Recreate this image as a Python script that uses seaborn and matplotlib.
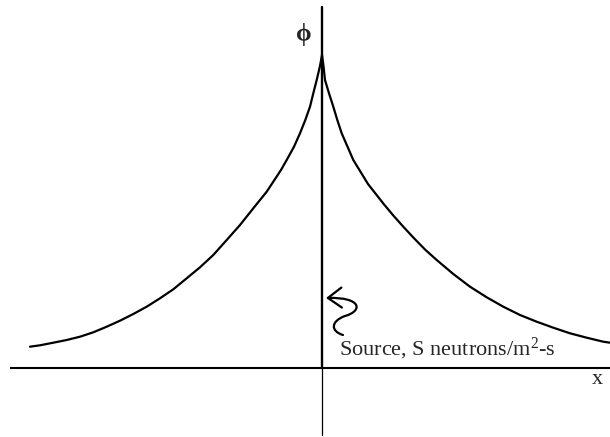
import numpy as np
import pandas as pd
import seaborn as sns
import matplotlib.pyplot as plt
from matplotlib.path import Path
from matplotlib.patches import FancyArrowPatch

# Flux profile on either side of a plane source at x = 0 (arbitrary units)
x_left = [-2.92, -2.82, -2.687, -2.553, -2.42, -2.287, -2.153, -2.02, -1.887,
          -1.753, -1.62, -1.487, -1.353, -1.22, -1.087, -0.953, -0.82, -0.687,
          -0.553, -0.41, -0.353, -0.28, -0.22, -0.167, -0.12, -0.087, -0.053,
          -0.02, 0.0]
phi_left = [0.213, 0.227, 0.253, 0.28, 0.313, 0.357, 0.413, 0.473, 0.54,
            0.613, 0.697, 0.787, 0.897, 1.007, 1.13, 1.28, 1.43, 1.597,
            1.763, 1.98, 2.08, 2.213, 2.347, 2.48, 2.613, 2.747, 2.88,
            3.02, 3.13]
x_right = [0.015, 0.03, 0.07, 0.113, 0.153, 0.197, 0.313, 0.46, 0.613, 0.713,
           0.813, 0.913, 1.03, 1.147, 1.313, 1.48, 1.647, 1.813, 1.98, 2.147,
           2.313, 2.48, 2.647, 2.813, 2.88]
phi_right = [3.02, 2.88, 2.747, 2.613, 2.48, 2.347, 2.08, 1.84, 1.645, 1.525,
             1.413, 1.305, 1.185, 1.08, 0.94, 0.813, 0.707, 0.613, 0.53, 0.463,
             0.403, 0.347, 0.303, 0.263, 0.253]

axis_label_x = "x"
axis_label_phi = "ϕ"
source_label = "Source, S neutrons/m$^{2}$-s"

df = pd.DataFrame({"x": x_left + x_right, "phi": phi_left + phi_right})

sns.set_theme(style="white")
plt.rcParams["font.family"] = ["Liberation Serif", "DejaVu Serif"]
plt.rcParams["mathtext.fontset"] = "custom"
plt.rcParams["mathtext.rm"] = "Liberation Serif"
plt.rcParams["mathtext.it"] = "Liberation Serif"
plt.rcParams["mathtext.default"] = "rm"

fig = plt.figure(figsize=(6.10, 4.37), dpi=100)
ax = fig.add_axes([0, 0, 1, 1])
ax.set_xlim(-3.22, 2.88)
ax.set_ylim(-0.69, 3.68)
ax.set_axis_off()

# coordinate axes
ax.plot([-3.12, 2.88], [0, 0], color="black", lw=1.5, solid_capstyle="butt")
ax.plot([0, 0], [-0.67, 0], color="black", lw=0.9)
ax.plot([0, 0], [0, 3.61], color="black", lw=1.7)

# flux curve
sns.lineplot(data=df, x="x", y="phi", sort=False, color="black", lw=1.6,
             ax=ax, legend=False)

ax.text(-0.185, 3.34, axis_label_phi, fontsize=18, fontweight="bold",
        ha="center", va="center")
ax.text(2.75, -0.11, axis_label_x, fontsize=16, ha="center", va="center")
ax.text(0.17, 0.13, source_label, fontsize=16, ha="left", va="baseline")

# curly pointer from the label to the source plane
verts = [(0.21, 0.33), (0.08, 0.37), (0.09, 0.47), (0.23, 0.52),
         (0.41, 0.57), (0.40, 0.71), (0.04, 0.70)]
codes = [Path.MOVETO, Path.CURVE4, Path.CURVE4, Path.CURVE4,
         Path.CURVE4, Path.CURVE4, Path.CURVE4]
squiggle = FancyArrowPatch(path=Path(verts, codes),
                           arrowstyle="->,head_length=0.55,head_width=0.4",
                           mutation_scale=18, color="black", lw=1.6)
ax.add_patch(squiggle)

fig.savefig("out.png", dpi=100, facecolor="white")
